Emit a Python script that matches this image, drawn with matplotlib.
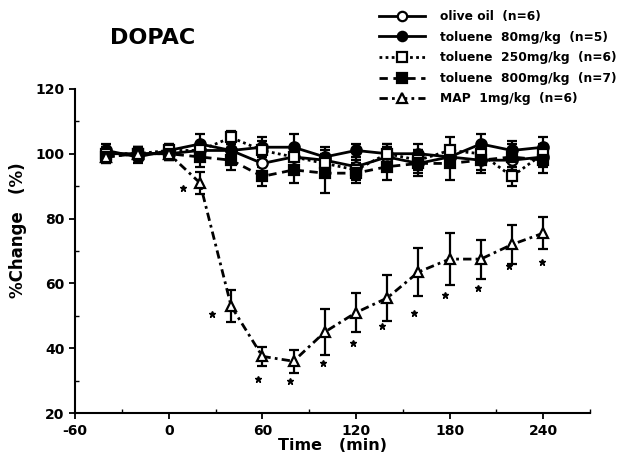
import numpy as np
import matplotlib.pyplot as plt

plt.rcParams['font.family'] = ['DejaVu Sans']
plt.rcParams['font.weight'] = 'bold'
plt.rcParams['axes.unicode_minus'] = False

time = [-40, -20, 0, 20, 40, 60, 80, 100, 120, 140, 160, 180, 200, 220, 240]

olive = [100, 100, 100, 101, 101, 97, 99, 98, 96, 99, 97, 99, 98, 98, 99]
olive_err = [2, 2, 2, 2, 2, 3, 3, 3, 3, 3, 3, 3, 3, 3, 3]

tol80 = [101, 99, 101, 103, 101, 102, 102, 99, 101, 100, 100, 99, 103, 101, 102]
tol80_err = [2, 2, 2, 3, 2, 3, 4, 3, 2, 3, 3, 3, 3, 3, 3]

tol250 = [100, 100, 101, 101, 105, 101, 99, 97, 95, 100, 98, 101, 100, 93, 100]
tol250_err = [2, 2, 2, 2, 2, 3, 3, 3, 3, 3, 3, 4, 3, 3, 3]

tol800 = [99, 100, 100, 99, 98, 93, 95, 94, 94, 96, 97, 97, 98, 99, 98]
tol800_err = [2, 2, 2, 3, 3, 3, 4, 6, 3, 4, 4, 5, 4, 4, 4]

map1 = [99, 100, 100, 91, 53, 37.5, 36, 45, 51, 55.5, 63.5, 67.5, 67.5, 72, 75.5]
map1_err = [2, 2, 2, 3.5, 5, 3, 3.5, 7, 6, 7, 7.5, 8, 6, 6, 5]

# significance stars for MAP (time offset in min, level in %)
star_time = [20, 40, 60, 80, 100, 120, 140, 160, 180, 200, 220, 240]
star_shift = [-11, -12, -3, -2, -1, -2, -3, -3, -3, -2, -2, -1]
star_level = [89.5, 50.5, 30.5, 30, 35.5, 41.5, 47, 51, 56.5, 58.5, 65.5, 66.5]

fig = plt.figure(figsize=(6.42, 4.58), dpi=100)
ax = fig.add_axes([0.117, 0.098, 0.802, 0.708])

series = [
    (olive, olive_err, 'o', 'white', '-', 'olive oil  (n=6)'),
    (tol80, tol80_err, 'o', 'black', '-', 'toluene  80mg/kg  (n=5)'),
    (tol250, tol250_err, 's', 'white', (0, (1, 1.2)), 'toluene  250mg/kg  (n=6)'),
    (tol800, tol800_err, 's', 'black', (0, (3, 2)), 'toluene  800mg/kg  (n=7)'),
    (map1, map1_err, '^', 'white', (0, (3, 1.5, 1, 1.5)), 'MAP  1mg/kg  (n=6)'),
]

handles = []
for vals, err, mk, fc, ls, lab in series:
    ax.errorbar(time, vals, yerr=err, fmt='none', ecolor='black', elinewidth=1.6,
                capsize=3.5, capthick=1.6, zorder=2)
    h, = ax.plot(time, vals, linestyle=ls, color='black', linewidth=2.0,
                 marker=mk, markersize=7.5, markerfacecolor=fc,
                 markeredgecolor='black', markeredgewidth=1.6, label=lab, zorder=3)
    handles.append(h)

ax.plot(np.array(star_time) + np.array(star_shift), star_level, linestyle='none',
        marker='*', markersize=5, color='black')

ax.set_xlim(-60, 270)
ax.set_ylim(20, 120)
ax.set_xticks(range(-60, 241, 60))
ax.set_xticks(range(-60, 271, 30), minor=True)
ax.set_yticks(range(20, 121, 20))
ax.set_yticks(range(20, 121, 10), minor=True)
ax.spines['top'].set_visible(False)
ax.spines['right'].set_visible(False)
ax.spines['left'].set_linewidth(1.5)
ax.spines['bottom'].set_linewidth(1.5)
ax.tick_params(which='major', direction='out', length=4, width=1.3, labelsize=10)
ax.tick_params(which='minor', direction='in', length=3, width=1)

ax.set_xlabel('Time   (min)', fontsize=11.5, fontweight='bold', labelpad=0)
ax.set_ylabel('%Change   (%)', fontsize=12, fontweight='bold')
ax.yaxis.set_label_coords(-0.093, 0.565)

fig.text(0.172, 0.905, 'DOPAC', fontsize=16, fontweight='bold')

fig.legend(handles=handles, loc='upper left', bbox_to_anchor=(0.59, 0.978),
           frameon=False, fontsize=8.8, handlelength=3.8, handletextpad=1.2,
           labelspacing=0.62, markerscale=0.9, borderpad=0, borderaxespad=0)

fig.savefig('out.png', dpi=100)
